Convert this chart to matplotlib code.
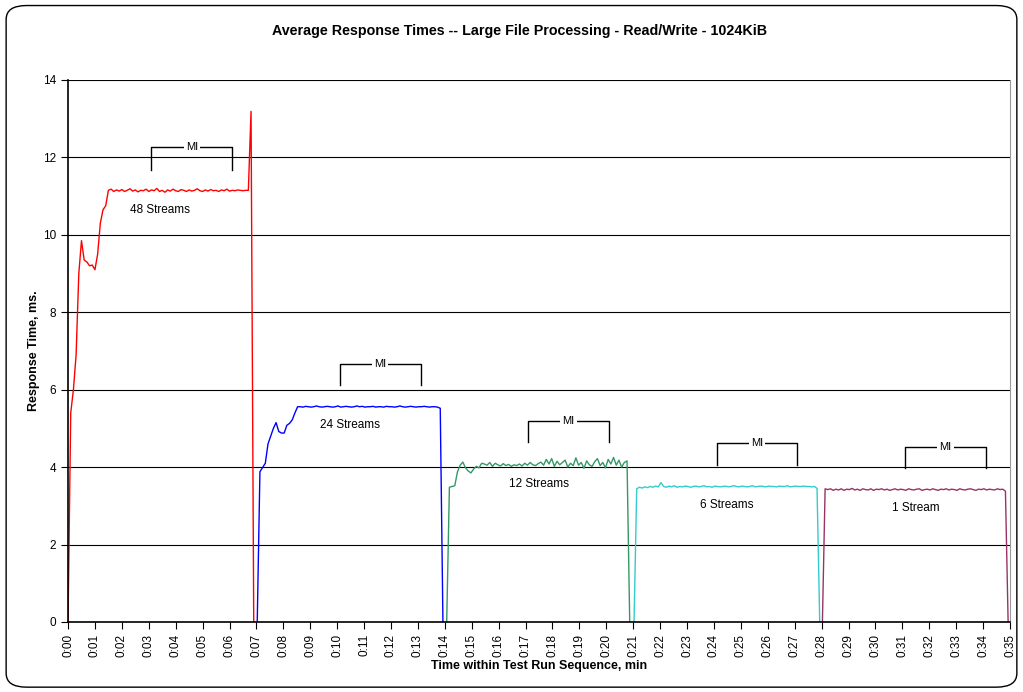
import numpy as np
import matplotlib
matplotlib.use("Agg")
import matplotlib.pyplot as plt
from matplotlib.patches import FancyBboxPatch

plt.rcParams['font.family'] = ['Liberation Sans', 'DejaVu Sans']

# sample step (minutes) and start time of each run
step = 0.1
starts = [0.0, 7.03, 14.07, 21.03, 28.03]

red = [0, 5.4, 6.0, 6.9, 9.0, 9.85, 9.35, 9.3, 9.2, 9.22, 9.1, 9.5, 10.3, 10.65, 10.75,
       11.15, 11.18, 11.12, 11.16, 11.13, 11.17, 11.12, 11.15, 11.19, 11.13,
       11.16, 11.11, 11.15, 11.14, 11.18, 11.12, 11.16, 11.14, 11.20, 11.12,
       11.15, 11.10, 11.16, 11.13, 11.18, 11.14, 11.12, 11.17, 11.15, 11.12,
       11.16, 11.13, 11.15, 11.19, 11.14, 11.12, 11.16, 11.13, 11.17, 11.14,
       11.15, 11.12, 11.16, 11.14, 11.18, 11.13, 11.15, 11.14, 11.16, 11.15,
       11.14, 11.15, 11.15,
       13.19, 0]

blue = [0, 3.88, 3.99, 4.1, 4.6, 4.8, 5.0, 5.15, 4.92, 4.88, 4.88, 5.08, 5.13, 5.22, 5.4, 5.56,
        5.56, 5.55, 5.57, 5.56, 5.55, 5.56, 5.58, 5.56, 5.55, 5.56,
        5.57, 5.56, 5.55, 5.56, 5.58, 5.55, 5.56, 5.57, 5.56, 5.55,
        5.56, 5.58, 5.56, 5.57, 5.55, 5.56, 5.56, 5.57, 5.55, 5.56,
        5.56, 5.55, 5.57, 5.56, 5.56, 5.55, 5.56, 5.58, 5.56, 5.55,
        5.56, 5.57, 5.56, 5.55, 5.56, 5.56, 5.57, 5.56, 5.55, 5.56,
        5.56, 5.55,
        5.52, 0]

green = [0, 3.48, 3.5, 3.52, 3.88, 4.05, 4.13, 3.98, 3.9, 3.85, 3.95, 4.02, 3.98, 4.1,
         4.08, 4.05, 4.12, 4.02, 4.10, 4.06, 4.03, 4.09, 4.04, 4.07,
         4.02, 4.06, 4.04, 4.08, 4.03, 4.10, 4.05, 4.12, 4.06, 4.04,
         4.09, 4.13, 4.05, 4.20, 4.08, 4.22, 4.02, 4.15, 4.06, 4.12,
         4.18, 4.00, 4.10, 4.04, 4.24, 4.05, 4.12, 3.97, 4.16, 4.06,
         4.02, 4.14, 4.22, 4.04, 4.12, 3.98, 4.20, 4.08, 4.25, 4.05,
         4.18, 4.00, 4.12,
         4.16, 0]

cyan = [0, 3.44, 3.48,
        3.46, 3.49, 3.47, 3.50, 3.48, 3.51, 3.49, 3.60, 3.50, 3.48,
        3.51, 3.49, 3.52, 3.48, 3.50, 3.49, 3.51, 3.50, 3.48, 3.50,
        3.51, 3.49, 3.50, 3.52, 3.49, 3.50, 3.48, 3.51, 3.50, 3.49,
        3.50, 3.51, 3.49, 3.50, 3.52, 3.50, 3.49, 3.51, 3.50, 3.49,
        3.50, 3.52, 3.49, 3.50, 3.51, 3.50, 3.49, 3.51, 3.50, 3.50,
        3.49, 3.51, 3.50, 3.50, 3.52, 3.49, 3.50, 3.51, 3.50, 3.50,
        3.51, 3.50, 3.50, 3.49, 3.50,
        3.45, 0]

purple = [0, 3.44,
          3.42, 3.44, 3.40, 3.43, 3.41, 3.44, 3.40, 3.43, 3.42, 3.45,
          3.41, 3.43, 3.40, 3.44, 3.42, 3.41, 3.44, 3.40, 3.43, 3.42,
          3.44, 3.41, 3.43, 3.40, 3.42, 3.44, 3.41, 3.43, 3.42, 3.40,
          3.44, 3.42, 3.41, 3.43, 3.44, 3.40, 3.42, 3.43, 3.41, 3.44,
          3.42, 3.40, 3.43, 3.42, 3.44, 3.41, 3.43, 3.42, 3.40, 3.44,
          3.42, 3.41, 3.43, 3.44, 3.42, 3.40, 3.43, 3.42, 3.44, 3.41,
          3.43, 3.42, 3.41, 3.44, 3.42, 3.43,
          3.38, 0]

series = [red, blue, green, cyan, purple]
colors = ['#FF0000', '#0000FF', '#339966', '#33CCCC', '#993366']
labels = ['48 Streams', '24 Streams', '12 Streams', '6 Streams', '1 Stream']
label_x = [3.42, 10.48, 17.5, 24.49, 31.51]
label_y = [10.65, 5.09, 3.57, 3.02, 2.95]

# measurement interval brackets
mi_start = [3.1, 10.1, 17.1, 24.1, 31.1]
mi_len = 3.0
mi_top = [12.26, 6.67, 5.20, 4.62, 4.53]
mi_bot = [11.68, 6.12, 4.66, 4.06, 3.97]

fig = plt.figure(figsize=(10.23, 6.92), dpi=100)
ax = fig.add_axes([0.0665, 0.1012, 0.9208, 0.7832])

for s, vals, c in zip(starts, series, colors):
    t = s + step * np.arange(len(vals))
    ax.plot(t, vals, color=c, lw=1.0)

for x, y, txt in zip(label_x, label_y, labels):
    ax.text(x, y, txt, ha='center', va='center', fontsize=8.5)

for x0, top, bot in zip(mi_start, mi_top, mi_bot):
    ax.plot([x0, x0, x0 + mi_len, x0 + mi_len], [bot, top, top, bot], color='black', lw=1.0)
    ax.text(x0 + mi_len / 2, top, 'MI', ha='center', va='center', fontsize=8,
            bbox=dict(facecolor='white', edgecolor='none', pad=1.5))

ax.set_xlim(0, 35)
ax.set_ylim(0, 14)
ax.set_xticks(np.arange(0, 36))
ax.set_xticklabels(['0:%02d' % m for m in range(36)], rotation=90, fontsize=8.5)
ax.set_yticks(np.arange(0, 15, 2))
ax.tick_params(axis='y', labelsize=8.5, length=5, direction='out')
ax.tick_params(axis='x', length=5, direction='out')
ax.yaxis.grid(True, color='black', lw=0.8)
ax.set_axisbelow(True)
ax.spines['top'].set_visible(False)
ax.spines['right'].set_color('#999999')
ax.spines['left'].set_linewidth(1.2)
ax.spines['bottom'].set_linewidth(1.2)

ax.set_xlabel('Time within Test Run Sequence, min', fontsize=9, fontweight='bold', labelpad=2)
ax.set_ylabel('Response Time, ms.', fontsize=9, fontweight='bold', labelpad=2)
fig.text(0.508, 0.955, 'Average Response Times -- Large File Processing - Read/Write - 1024KiB',
         ha='center', va='center', fontsize=10.3, fontweight='bold')

border = FancyBboxPatch((0.006, 0.007), 0.988, 0.985, transform=fig.transFigure,
                        boxstyle='round,pad=0,rounding_size=0.02', facecolor='none',
                        edgecolor='black', lw=1.0)
fig.patches.append(border)

fig.savefig('out.png', dpi=100)
